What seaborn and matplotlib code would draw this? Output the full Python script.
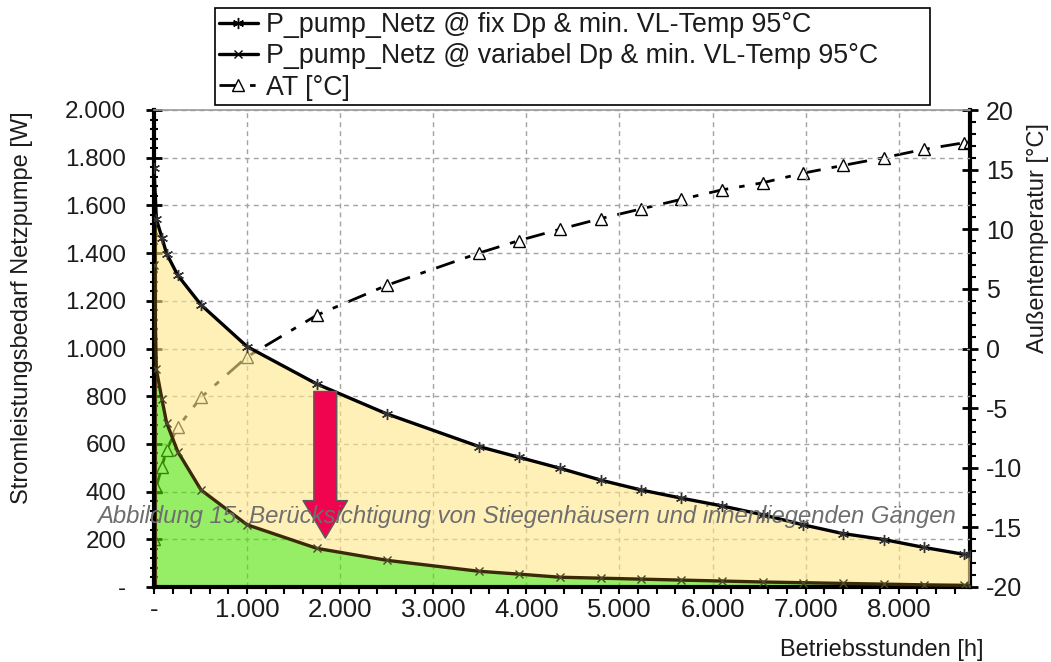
import matplotlib
matplotlib.use("Agg")
import matplotlib.pyplot as plt
import seaborn as sns
from matplotlib.ticker import MultipleLocator, FuncFormatter
from matplotlib.lines import Line2D

# ---------------- data ----------------
hours = [0, 25, 85, 135, 255, 505, 1000, 1750, 2500, 3490, 3920, 4360, 4800,
         5230, 5660, 6100, 6540, 6970, 7400, 7840, 8270, 8700, 8760]
p_fix = [1755, 1543, 1465, 1398, 1307, 1183, 1008, 851, 726, 589, 544, 498, 448,
         407, 373, 340, 303, 261, 224, 199, 166, 137, 133]
p_var = [1350, 913, 788, 689, 568, 407, 261, 162, 112, 66, 54, 41, 37,
         33, 29, 25, 21, 18, 15, 12, 9, 7, 6]
at_temp = [-16.0, -11.6, -9.9, -8.5, -6.6, -4.1, -0.7, 2.8, 5.3, 8.0, 9.05, 10.0, 10.9,
           11.7, 12.5, 13.3, 13.9, 14.7, 15.35, 16.0, 16.7, 17.25, 17.3]

labels = ["P_pump_Netz @ fix Dp & min. VL-Temp 95°C",
          "P_pump_Netz @ variabel Dp & min. VL-Temp 95°C",
          "AT [°C]"]
x_label = "Betriebsstunden [h]"
y_label = "Stromleistungsbedarf Netzpumpe [W]"
y2_label = "Außentemperatur [°C]"
caption = "Abbildung 15: Berücksichtigung von Stiegenhäusern und innenliegenden Gängen"

# arrow annotation (hours, W)
arrow_x = 1840
arrow_from = 820
arrow_to = 205
band_top = 1650  # dark strip at hour 0

# ---------------- style ----------------
sns.set_theme(style="white")
plt.rcParams['font.family'] = ['Liberation Sans', 'DejaVu Sans']
plt.rcParams['axes.unicode_minus'] = False

YELLOW = '#FFE689'
GREEN = '#50E300'
TXT = '#1c1c1c'
FILL_ALPHA = 0.6

fig = plt.figure(figsize=(10.51, 6.62), dpi=100)
L, R = 154 / 1051, 969.5 / 1051
B, T = (662 - 587) / 662, (662 - 110) / 662
ax = fig.add_axes([L, B, R - L, T - B])
ax2 = ax.twinx()
ax.set_zorder(ax2.get_zorder() + 1)
ax.patch.set_visible(False)
ax2.patch.set_visible(True)
ax2.patch.set_facecolor('white')

# temperature line (under the fills)
sns.lineplot(x=hours, y=at_temp, ax=ax2, color='black', lw=2.0,
             linestyle=(0, (7, 4, 2, 4)), marker='^', markersize=8,
             markerfacecolor='white', markeredgecolor='black', markeredgewidth=1,
             sort=False, legend=False, zorder=2)

# fills
ax.fill_between(hours, p_var, p_fix, color=YELLOW, alpha=FILL_ALPHA, lw=0, zorder=1)
ax.fill_between(hours, 0, p_var, color=GREEN, alpha=FILL_ALPHA, lw=0, zorder=1)
ax.vlines(hours[0] + 15, 0, band_top, color='#5a4a12', lw=3, zorder=2)

# power curves
sns.lineplot(x=hours, y=p_var, ax=ax, color='#3a2a08', lw=2.4, marker='x',
             markersize=6, markeredgecolor='#4a4a2a', markeredgewidth=1,
             sort=False, legend=False, zorder=3)
sns.lineplot(x=hours, y=p_fix, ax=ax, color='black', lw=2.4, marker=(6, 2, 0),
             markersize=8, markeredgecolor='#333333', markeredgewidth=1,
             sort=False, legend=False, zorder=4)

# arrow
ax.annotate('', xy=(arrow_x, arrow_to), xytext=(arrow_x, arrow_from),
            arrowprops=dict(arrowstyle='simple,head_width=32,head_length=27,tail_width=16.5',
                            mutation_scale=1, fc='#F0034F', ec='#5a5a5a', lw=1,
                            shrinkA=0, shrinkB=0), zorder=6)

# axes limits / ticks
ax.set_xlim(0, 8760)
ax.set_ylim(0, 2000)
ax2.set_ylim(-20, 20)
ax.xaxis.set_major_locator(MultipleLocator(1000))
ax.xaxis.set_minor_locator(MultipleLocator(200))
ax.yaxis.set_major_locator(MultipleLocator(200))
ax.yaxis.set_minor_locator(MultipleLocator(40))
ax2.yaxis.set_major_locator(MultipleLocator(5))
ax2.yaxis.set_minor_locator(MultipleLocator(1))


def thousands(v, pos):
    if abs(v) < 1e-9:
        return '-'
    return f"{int(round(v)):,}".replace(',', '.')


ax.xaxis.set_major_formatter(FuncFormatter(thousands))
ax.yaxis.set_major_formatter(FuncFormatter(thousands))
ax2.yaxis.set_major_formatter(FuncFormatter(lambda v, p: f"{int(round(v))}"))

ax.tick_params(axis='y', which='major', direction='inout', length=11, width=2,
               pad=14.5, labelsize=17.5, labelcolor=TXT, left=True, right=False, color='black')
ax.tick_params(axis='y', which='minor', direction='inout', length=6, width=1.5,
               left=True, right=False, color='black')
ax.tick_params(axis='x', which='major', direction='out', length=5, width=1.5,
               pad=3, labelsize=18.5, labelcolor=TXT, bottom=True, color='black')
ax.tick_params(axis='x', which='minor', direction='out', length=5, width=1.5,
               bottom=True, color='black')
ax2.tick_params(axis='y', which='major', direction='inout', length=11, width=2,
                pad=6.5, labelsize=18, labelcolor=TXT, right=True, left=False, color='black')
ax2.tick_params(axis='y', which='minor', direction='out', length=4, width=1.5,
                right=True, left=False, color='black')

ax.grid(True, which='major', color='#a3a3a3', linestyle=(0, (3.5, 3)), lw=1)
ax.set_axisbelow(True)

for s in ['left', 'bottom']:
    ax.spines[s].set_linewidth(3)
    ax.spines[s].set_color('black')
ax.spines['top'].set_linewidth(1.2)
ax.spines['top'].set_color('#9a9a9a')
ax.spines['right'].set_visible(False)
ax2.spines['right'].set_linewidth(3)
ax2.spines['right'].set_color('black')
for s in ['left', 'bottom', 'top']:
    ax2.spines[s].set_visible(False)

ax.set_xlabel('')
ax.set_ylabel('')
ax2.set_ylabel('')

# axis titles
fig.text(22 / 1051, 1 - 308 / 662, y_label, rotation=90, ha='center', va='center',
         fontsize=17, color=TXT)
fig.text(1038 / 1051, 1 - 238 / 662, y2_label, rotation=90, ha='center', va='center',
         fontsize=17, color=TXT)
fig.text(882 / 1051, 1 - 650 / 662, x_label, ha='center', va='center',
         fontsize=17, color=TXT)

# caption over the plot
fig.text(527 / 1051, 1 - 516 / 662, caption, ha='center', va='center',
         fontsize=17.2, style='italic', color='#6e6e6e', zorder=10)

# legend
handles = [
    Line2D([], [], color='black', lw=2.4, marker=(6, 2, 0), markersize=8, markeredgewidth=1),
    Line2D([], [], color='black', lw=2.4, marker='x', markersize=6, markeredgewidth=1),
    Line2D([], [], color='black', lw=2.0, linestyle=(0, (7, 4, 2, 4)), marker='^',
           markersize=8, markerfacecolor='white', markeredgecolor='black', markeredgewidth=1),
]
leg = fig.legend(handles, labels, loc='upper left',
                 bbox_to_anchor=(215 / 1051, 1 - 8 / 662, 715 / 1051, 0), mode='expand',
                 borderaxespad=0, fontsize=19.3, handlelength=1.45, handletextpad=0.3,
                 borderpad=0.15, labelspacing=0.2, fancybox=False, framealpha=1,
                 edgecolor='black', frameon=True)
leg.get_frame().set_linewidth(1.2)
for t in leg.get_texts():
    t.set_color(TXT)

fig.savefig('out.png', dpi=100, facecolor='white')
